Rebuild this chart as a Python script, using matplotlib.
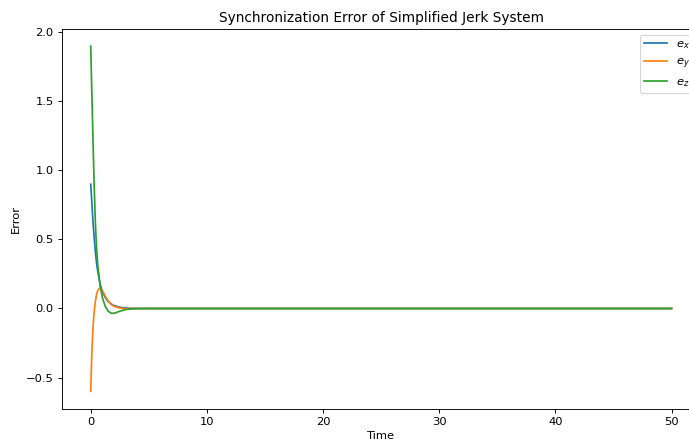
import numpy as np
import matplotlib
matplotlib.use("Agg")
import matplotlib.pyplot as plt

# valeurs (temps, erreurs)
t = [0, 0.05, 0.1, 0.2, 0.3, 0.4, 0.5, 0.6, 0.8, 1.0, 1.25, 1.5, 1.75, 2.0, 2.5, 3.0, 3.5, 4.0, 5.0, 50]
e_x = [0.90, 0.83, 0.76, 0.62, 0.51, 0.41, 0.33, 0.27, 0.18, 0.12, 0.08, 0.05, 0.033, 0.021, 0.009, 0.003, 0.001, 0.0, 0.0, 0.0]
e_y = [-0.60, -0.45, -0.31, -0.13, -0.02, 0.05, 0.10, 0.13, 0.15, 0.13, 0.09, 0.055, 0.03, 0.015, 0.003, -0.002, -0.001, 0.0, 0.0, 0.0]
e_z = [1.90, 1.72, 1.55, 1.20, 0.88, 0.62, 0.44, 0.32, 0.17, 0.08, 0.015, -0.02, -0.034, -0.035, -0.02, -0.008, -0.003, -0.001, 0.0, 0.0]

dpi = 82.4
fig = plt.figure(figsize=(690 / dpi, 442 / dpi), dpi=dpi)
ax = fig.add_axes([0.0894, 0.0756, 0.926, 0.859])

ax.plot(t, e_x, label='$e_x$')
ax.plot(t, e_y, label='$e_y$')
ax.plot(t, e_z, label='$e_z$')

ax.set_title('Synchronization Error of Simplified Jerk System')
ax.set_xlabel('Time')
ax.set_ylabel('Error')
ax.legend(loc='upper right')

fig.savefig('out.png', dpi=dpi)
